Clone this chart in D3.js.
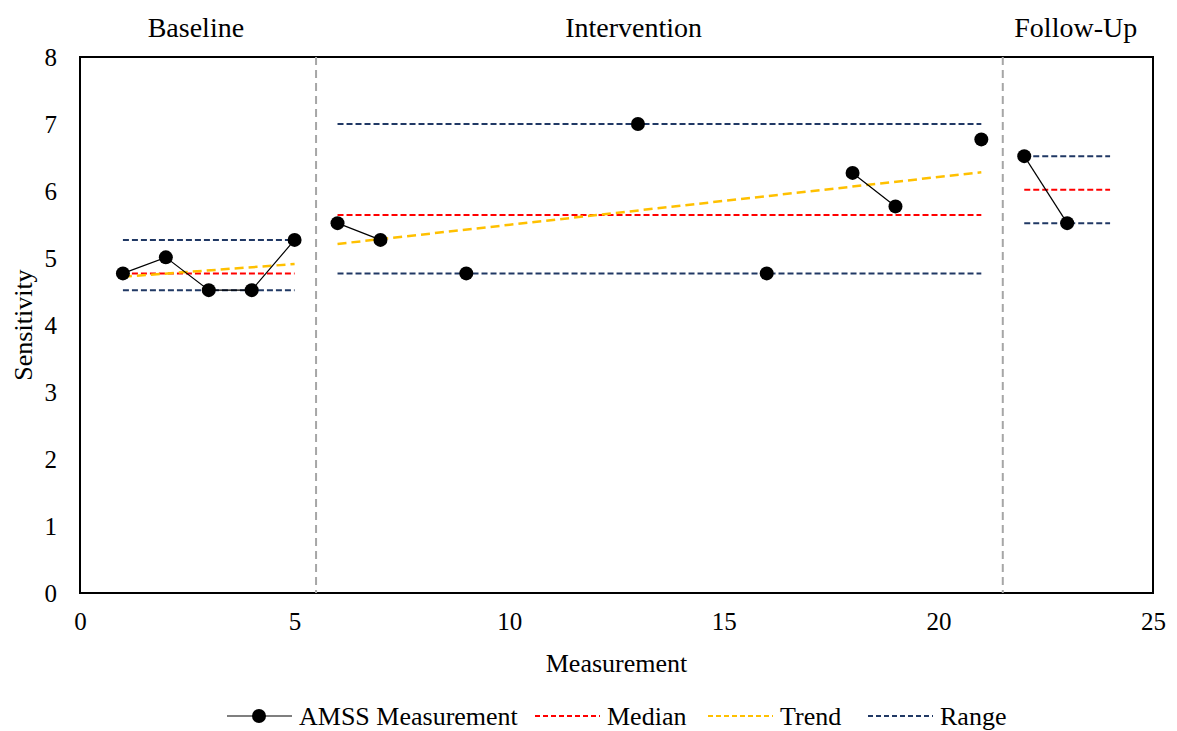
<!DOCTYPE html>
<html>
<meta charset="utf-8">
<script src="https://d3js.org/d3.v7.min.js"></script>
<style>
  body { margin: 0; background: #fff; }
  text { font-family: "Liberation Serif", "Times New Roman", serif; fill: #000; }
</style>
<body>
<div id="chart"></div>
<script>
// measurement number and AMSS sensitivity score (null = no measurement taken)
const sessions = [1, 2, 3, 4, 5, 6, 7, 8, 9, 10, 11, 12, 13, 14, 15, 16, 17, 18, 19, 20, 21, 22, 23];
const amss = [4.77, 5.01, 4.52, 4.52, 5.27, 5.52, 5.27, null, 4.77, null, null, null, 7.0, null, null, 4.77, null, 6.27, 5.77, null, 6.77, 6.52, 5.52];

// phases: name, start / end of the phase lines, median, trend ends, range
const phaseNames = ["Baseline", "Intervention", "Follow-Up"];
const phaseStart = [1, 6, 22];
const phaseEnd = [5, 21, 24];
const phaseMedian = [4.77, 5.64, 6.02];
const trendStart = [4.72, 5.21, null];
const trendEnd = [4.91, 6.28, null];
const rangeLow = [4.52, 4.77, 5.52];
const rangeHigh = [5.27, 7.0, 6.52];
const phaseDividers = [5.5, 21.5];
const phaseLabelX = [2.7, 12.9, 23.2];

const xTicks = [0, 5, 10, 15, 20, 25];
const yTicks = [0, 1, 2, 3, 4, 5, 6, 7, 8];

const margin = {top: 57, right: 24, bottom: 138, left: 80},
    width = 1177 - margin.left - margin.right,
    height = 731 - margin.top - margin.bottom;

const svg = d3.select("#chart")
  .append("svg")
    .attr("width", 1177)
    .attr("height", 731)
  .append("g")
    .attr("transform", "translate(" + margin.left + "," + margin.top + ")");

const x = d3.scaleLinear().domain([0, 25]).range([0, width]);
const y = d3.scaleLinear().domain([0, 8]).range([height, 0]);

// axes (labels only, no tick marks)
const xAxis = svg.append("g")
  .attr("transform", "translate(0," + height + ")")
  .call(d3.axisBottom(x).tickValues(xTicks).tickSize(0).tickPadding(19));
xAxis.select(".domain").remove();
xAxis.selectAll("text").style("font-size", "25px").style("font-family", "Liberation Serif");

const yAxis = svg.append("g")
  .call(d3.axisLeft(y).tickValues(yTicks).tickSize(0).tickPadding(23));
yAxis.select(".domain").remove();
yAxis.selectAll("text").style("font-size", "25px").style("font-family", "Liberation Serif");

// plot border
svg.append("rect")
  .attr("x", 0).attr("y", 0)
  .attr("width", width).attr("height", height)
  .attr("fill", "none")
  .attr("stroke", "#000")
  .attr("stroke-width", 2);

// phase dividers
svg.selectAll(".divider")
  .data(phaseDividers)
  .enter().append("line")
    .attr("class", "divider")
    .attr("x1", d => x(d)).attr("x2", d => x(d))
    .attr("y1", 0).attr("y2", height)
    .attr("stroke", "#a6a6a6")
    .attr("stroke-width", 2)
    .attr("stroke-dasharray", "8,5");

// phase titles
svg.selectAll(".phase")
  .data(phaseNames)
  .enter().append("text")
    .attr("class", "phase")
    .attr("x", (d, i) => x(phaseLabelX[i]))
    .attr("y", -20)
    .attr("text-anchor", "middle")
    .style("font-size", "28px")
    .text(d => d);

const idx = d3.range(phaseNames.length);

function hline(values, color, dash, width) {
  svg.append("g").selectAll("line")
    .data(idx.filter(i => values[i] != null))
    .enter().append("line")
      .attr("x1", i => x(phaseStart[i])).attr("x2", i => x(phaseEnd[i]))
      .attr("y1", i => y(values[i])).attr("y2", i => y(values[i]))
      .attr("stroke", color)
      .attr("stroke-width", width)
      .attr("stroke-dasharray", dash);
}

hline(rangeHigh, "#203864", "6,3", 2);
hline(rangeLow, "#203864", "6,3", 2);
hline(phaseMedian, "#ff0000", "6,3", 2);

// trend lines
svg.append("g").selectAll("line")
  .data(idx.filter(i => trendStart[i] != null))
  .enter().append("line")
    .attr("x1", i => x(phaseStart[i])).attr("x2", i => x(phaseEnd[i]))
    .attr("y1", i => y(trendStart[i])).attr("y2", i => y(trendEnd[i]))
    .attr("stroke", "#ffc000")
    .attr("stroke-width", 2.5)
    .attr("stroke-dasharray", "9,5");

// measurement line, one path per phase, broken at missing values
const points = sessions.map((s, i) => ({x: s, y: amss[i]}));
idx.forEach(p => {
  const seg = points.filter(d => d.x >= phaseStart[p] && d.x <= phaseEnd[p]);
  svg.append("path")
    .datum(seg)
    .attr("fill", "none")
    .attr("stroke", "#000")
    .attr("stroke-width", 1.2)
    .attr("d", d3.line().defined(d => d.y != null).x(d => x(d.x)).y(d => y(d.y)));
});

svg.selectAll(".dot")
  .data(points.filter(d => d.y != null))
  .enter().append("circle")
    .attr("class", "dot")
    .attr("cx", d => x(d.x))
    .attr("cy", d => y(d.y))
    .attr("r", 7)
    .attr("fill", "#000");

// axis titles
svg.append("text")
  .attr("x", width / 2)
  .attr("y", height + 79)
  .attr("text-anchor", "middle")
  .style("font-size", "26px")
  .text("Measurement");

svg.append("text")
  .attr("transform", "rotate(-90)")
  .attr("x", -height / 2)
  .attr("y", -48)
  .attr("text-anchor", "middle")
  .style("font-size", "26px")
  .text("Sensitivity");

// legend
const legend = [
  {label: "AMSS Measurement", color: "#000", dash: null, x0: 227},
  {label: "Median", color: "#ff0000", dash: "5,3", x0: 535},
  {label: "Trend", color: "#ffc000", dash: "5,3", x0: 708},
  {label: "Range", color: "#203864", dash: "5,3", x0: 868}
];
const lg = d3.select("svg").append("g");
legend.forEach(item => {
  const g = lg.append("g").attr("transform", "translate(" + item.x0 + ",716)");
  g.append("line")
    .attr("x1", 0).attr("x2", 65).attr("y1", 0).attr("y2", 0)
    .attr("stroke", item.color)
    .attr("stroke-width", item.dash ? 2 : 1.2)
    .attr("stroke-dasharray", item.dash);
  if (!item.dash) g.append("circle").attr("cx", 32).attr("cy", 0).attr("r", 7).attr("fill", "#000");
  g.append("text")
    .attr("x", 72).attr("y", 9)
    .style("font-size", "26px")
    .text(item.label);
});
</script>
</body>
</html>
